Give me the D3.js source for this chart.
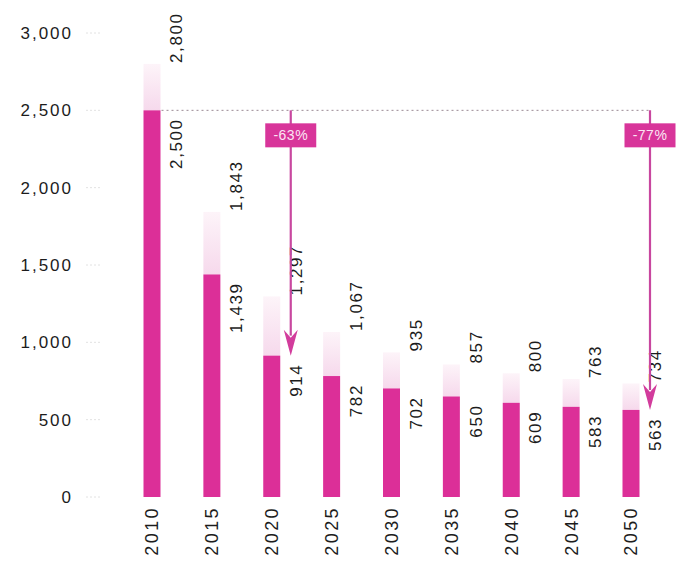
<!DOCTYPE html>
<html>
<head>
<meta charset="utf-8">
<script src="https://cdn.jsdelivr.net/npm/d3@7"></script>
<style>
  html, body { margin: 0; padding: 0; background: #fff; }
  svg { display: block; font-family: "Liberation Sans", Arial, Helvetica, sans-serif; }
</style>
</head>
<body>
<svg id="chart" width="677" height="572"></svg>
<script>
// Years on the category axis
const years = [2010, 2015, 2020, 2025, 2030, 2035, 2040, 2045, 2050];
// Upper (pale) series and lower (solid) series
const upperValues = [2800, 1843, 1297, 1067, 935, 857, 800, 763, 734];
const lowerValues = [2500, 1439, 914, 782, 702, 650, 609, 583, 563];
// Value-axis ticks
const yTicks = [0, 500, 1000, 1500, 2000, 2500, 3000];
// Reduction call-outs measured from the 2010 solid value
const reductionYears = [2020, 2050];
const reductionLabels = ["-63%", "-77%"];
const baseYear = 2010;

const svg = d3.select("#chart");
const magenta = "#dc2f98";
const ink = "#1c1c1c";
const fmt = d3.format(",");

const x = d3.scalePoint().domain(years).range([152, 631]);
const y = d3.scaleLinear().domain([0, 3000]).range([497, 33]);
const barW = 17;

// pale gradient for the upper series
const defs = svg.append("defs");
const grad = defs.append("linearGradient")
  .attr("id", "pale").attr("x1", 0).attr("y1", 1).attr("x2", 0).attr("y2", 0);
grad.append("stop").attr("offset", "0%").attr("stop-color", "#f6d9ec");
grad.append("stop").attr("offset", "100%").attr("stop-color", "#fdf4f9");

// value axis: labels and faint tick dashes
const yAxis = d3.axisLeft(y).tickValues(yTicks).tickFormat(fmt).tickSize(0).tickPadding(0);
const gy = svg.append("g").attr("transform", "translate(73,0)").call(yAxis);
gy.select(".domain").remove();
gy.selectAll("text")
  .attr("font-size", 17).attr("fill", ink)
  .attr("letter-spacing", 2)
  .attr("font-family", "'Liberation Sans', Arial, sans-serif");

svg.append("g").selectAll("line").data(yTicks).join("line")
  .attr("x1", 86).attr("x2", 102)
  .attr("y1", d => y(d)).attr("y2", d => y(d))
  .attr("stroke", "#e2e2e2").attr("stroke-width", 1)
  .attr("stroke-dasharray", "2,2");

const rows = years.map((yr, i) => ({ year: yr, up: upperValues[i], low: lowerValues[i] }));

// pale bars (upper value) above the solid bars
svg.append("g").selectAll("rect").data(rows).join("rect")
  .attr("x", d => x(d.year) - barW / 2)
  .attr("width", barW)
  .attr("y", d => y(d.up))
  .attr("height", d => y(d.low) - y(d.up))
  .attr("fill", "url(#pale)");

// solid bars
svg.append("g").selectAll("rect").data(rows).join("rect")
  .attr("x", d => x(d.year) - barW / 2)
  .attr("width", barW)
  .attr("y", d => y(d.low))
  .attr("height", d => y(0) - y(d.low))
  .attr("fill", magenta);

// value labels, rotated, to the right of each bar
const labelDx = 24;
const vlab = svg.append("g")
  .attr("font-size", 17).attr("fill", ink).attr("letter-spacing", 1.6);
vlab.selectAll("text.up").data(rows).join("text")
  .attr("class", "up")
  .attr("transform", d => `translate(${x(d.year) + labelDx},${y(d.up) - 1}) rotate(-90)`)
  .attr("dy", "0.36em")
  .attr("text-anchor", "start")
  .text(d => fmt(d.up));
vlab.selectAll("text.low").data(rows).join("text")
  .attr("class", "low")
  .attr("transform", d => `translate(${x(d.year) + labelDx},${y(d.low) + 8}) rotate(-90)`)
  .attr("dy", "0.36em")
  .attr("text-anchor", "end")
  .text(d => fmt(d.low));

// year labels along the bottom
const xAxis = d3.axisBottom(x).tickSize(0).tickPadding(0);
const gx = svg.append("g").call(xAxis);
gx.select(".domain").remove();
gx.selectAll(".tick").attr("transform", d => `translate(${x(d)},0)`);
gx.selectAll("text")
  .attr("transform", "translate(0,506) rotate(-90)")
  .attr("x", 0).attr("y", 0)
  .attr("dy", "0.36em")
  .attr("text-anchor", "end")
  .attr("font-size", 18).attr("fill", ink)
  .attr("letter-spacing", 2.4)
  .attr("font-family", "'Liberation Sans', Arial, sans-serif");

// reference line at the 2010 solid level
const baseVal = lowerValues[years.indexOf(baseYear)];
const arrowOffset = 19;
const lastArrowX = x(reductionYears[reductionYears.length - 1]) + arrowOffset;
svg.append("line")
  .attr("x1", x(baseYear) + barW / 2 + 1).attr("x2", lastArrowX)
  .attr("y1", y(baseVal)).attr("y2", y(baseVal))
  .attr("stroke", "#9a8a94").attr("stroke-width", 1)
  .attr("stroke-dasharray", "2,3");

// reduction arrows with percentage boxes
const callouts = reductionYears.map((yr, i) => ({
  year: yr, label: reductionLabels[i], val: lowerValues[years.indexOf(yr)]
}));
const cg = svg.append("g").selectAll("g").data(callouts).join("g");
cg.append("line")
  .attr("x1", d => x(d.year) + arrowOffset).attr("x2", d => x(d.year) + arrowOffset)
  .attr("y1", y(baseVal)).attr("y2", d => y(d.val) - 20)
  .attr("stroke", "#c8479f").attr("stroke-width", 2.2);
cg.append("path")
  .attr("d", d => {
    const ax = x(d.year) + arrowOffset, tip = y(d.val);
    return `M${ax - 7},${tip - 26} L${ax},${tip - 18} L${ax + 7},${tip - 26} L${ax},${tip} Z`;
  })
  .attr("fill", "#d23c9c");
cg.append("rect")
  .attr("x", d => x(d.year) + arrowOffset - 25.5)
  .attr("y", y(baseVal) + 13)
  .attr("width", 51).attr("height", 24)
  .attr("fill", "#d8359a");
cg.append("text")
  .attr("x", d => x(d.year) + arrowOffset)
  .attr("y", y(baseVal) + 25)
  .attr("dy", "0.36em")
  .attr("text-anchor", "middle")
  .attr("font-size", 14).attr("fill", "#fbe6f3")
  .attr("letter-spacing", 0.5)
  .text(d => d.label);
</script>
</body>
</html>
